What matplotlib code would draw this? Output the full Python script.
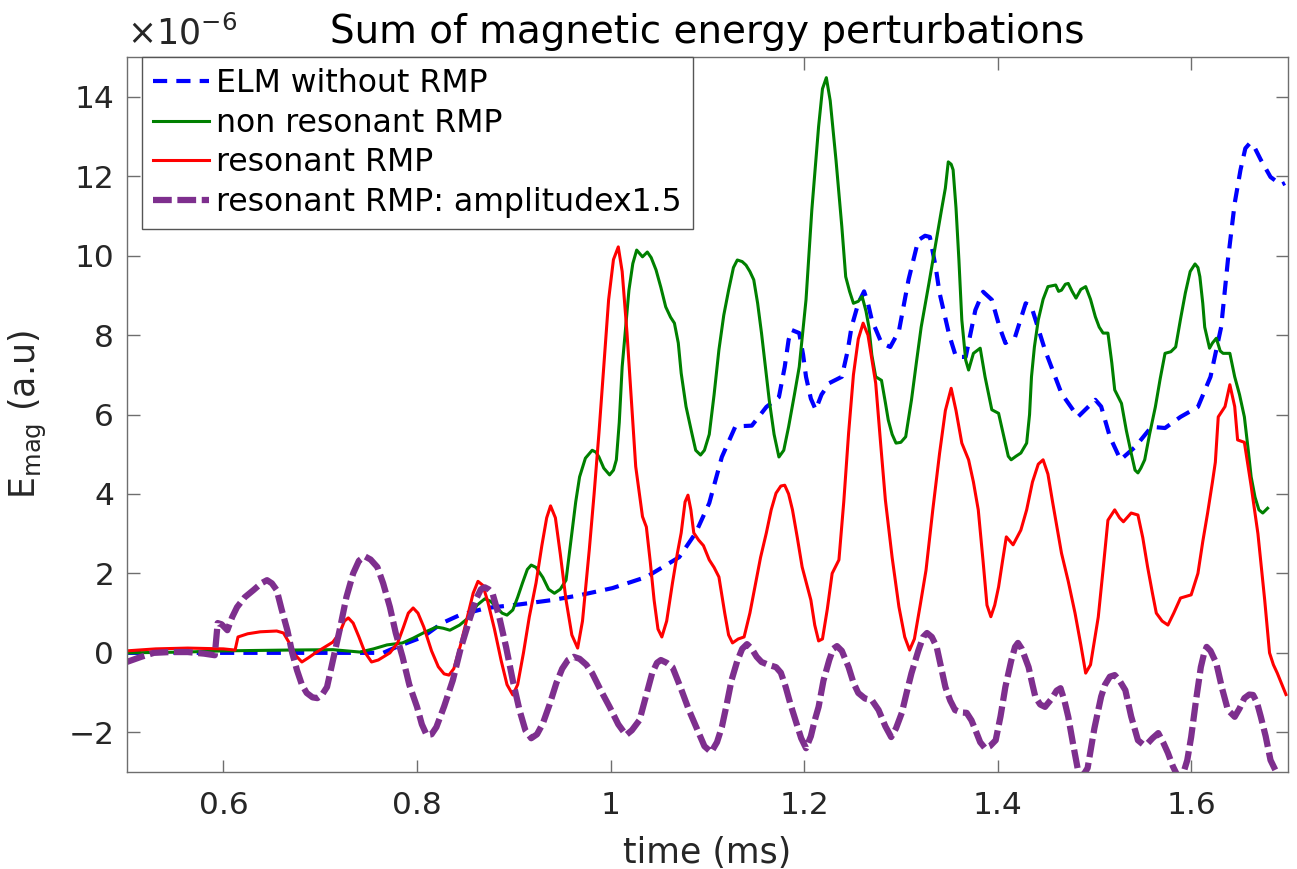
import matplotlib
matplotlib.use("Agg")
import matplotlib.pyplot as plt

plt.rcParams['font.family'] = ['DejaVu Sans']

# ELM without RMP
t_elm = [0.500, 0.600, 0.700, 0.765, 0.779, 0.806, 0.826, 0.844, 0.872, 0.906,
         0.940, 0.968, 1.002, 1.037, 1.071, 1.088, 1.102, 1.115, 1.129, 1.146,
         1.161, 1.174, 1.180, 1.184, 1.187, 1.195, 1.199, 1.202, 1.207, 1.212,
         1.218, 1.226, 1.239, 1.245, 1.249, 1.256, 1.262, 1.266, 1.270, 1.280,
         1.289, 1.298, 1.308, 1.318, 1.325, 1.330, 1.336, 1.340, 1.350, 1.357,
         1.367, 1.377, 1.385, 1.394, 1.402, 1.408, 1.418, 1.429, 1.435, 1.449,
         1.466, 1.483, 1.501, 1.507, 1.516, 1.527, 1.542, 1.559, 1.573, 1.589,
         1.607, 1.620, 1.631, 1.638, 1.645, 1.651, 1.656, 1.661, 1.666, 1.672,
         1.682, 1.693, 1.697]
e_elm = [0.00, 0.00, 0.00, 0.00, 0.15, 0.40, 0.75, 0.95, 1.13, 1.22,
         1.33, 1.45, 1.63, 1.91, 2.41, 3.02, 3.77, 4.93, 5.70, 5.72,
         6.19, 6.44, 7.20, 7.88, 8.13, 8.05, 7.50, 6.95, 6.40, 6.12,
         6.50, 6.79, 6.95, 7.60, 8.20, 8.80, 9.10, 8.80, 8.38, 7.80,
         7.70, 8.10, 9.40, 10.39, 10.50, 10.47, 9.71, 9.06, 8.00, 7.45,
         7.45, 8.63, 9.09, 8.89, 8.20, 7.80, 7.95, 8.80, 8.71, 7.62,
         6.53, 5.94, 6.37, 6.20, 5.44, 4.86, 5.18, 5.69, 5.66, 5.94,
         6.19, 6.95, 8.20, 9.89, 11.32, 12.16, 12.70, 12.84, 12.70, 12.41,
         11.98, 11.78, 11.83]

# non resonant RMP
t_nres = [0.500, 0.560, 0.600, 0.666, 0.713, 0.741, 0.755, 0.769, 0.785, 0.796,
          0.808, 0.820, 0.827, 0.834, 0.844, 0.854, 0.862, 0.870, 0.876, 0.882,
          0.888, 0.893, 0.899, 0.904, 0.909, 0.914, 0.918, 0.923, 0.930, 0.936,
          0.942, 0.948, 0.954, 0.960, 0.964, 0.968, 0.974, 0.981, 0.985, 0.988,
          0.993, 0.999, 1.003, 1.006, 1.009, 1.012, 1.016, 1.019, 1.023, 1.027,
          1.033, 1.038, 1.042, 1.047, 1.052, 1.057, 1.062, 1.066, 1.070, 1.073,
          1.078, 1.084, 1.088, 1.093, 1.097, 1.102, 1.107, 1.112, 1.117, 1.122,
          1.127, 1.131, 1.136, 1.140, 1.144, 1.148, 1.152, 1.156, 1.160, 1.164,
          1.169, 1.174, 1.179, 1.184, 1.190, 1.195, 1.202, 1.208, 1.215, 1.219,
          1.223, 1.227, 1.233, 1.239, 1.243, 1.247, 1.251, 1.256, 1.260, 1.264,
          1.267, 1.270, 1.274, 1.280, 1.284, 1.287, 1.291, 1.295, 1.300, 1.305,
          1.311, 1.316, 1.321, 1.329, 1.336, 1.342, 1.346, 1.349, 1.352, 1.354,
          1.357, 1.360, 1.363, 1.367, 1.370, 1.375, 1.382, 1.387, 1.394, 1.401,
          1.405, 1.408, 1.411, 1.414, 1.419, 1.424, 1.430, 1.433, 1.435, 1.438,
          1.442, 1.447, 1.452, 1.460, 1.463, 1.466, 1.470, 1.473, 1.477, 1.481,
          1.486, 1.491, 1.496, 1.501, 1.505, 1.509, 1.514, 1.518, 1.521, 1.528,
          1.533, 1.538, 1.542, 1.545, 1.548, 1.552, 1.557, 1.563, 1.568, 1.573,
          1.579, 1.584, 1.589, 1.594, 1.599, 1.604, 1.607, 1.609, 1.612, 1.614,
          1.619, 1.622, 1.626, 1.630, 1.633, 1.640, 1.645, 1.650, 1.655, 1.659,
          1.662, 1.666, 1.670, 1.674, 1.679]
e_nres = [0.00, 0.02, 0.05, 0.07, 0.08, 0.02, 0.10, 0.20, 0.25, 0.37,
          0.52, 0.65, 0.62, 0.57, 0.70, 0.90, 1.20, 1.36, 1.30, 1.15,
          1.00, 0.95, 1.08, 1.40, 1.76, 2.10, 2.21, 2.15, 1.90, 1.60,
          1.50, 1.60, 1.83, 3.00, 3.80, 4.43, 4.90, 5.10, 5.05, 4.93,
          4.65, 4.48, 4.60, 4.86, 5.80, 7.20, 8.30, 9.13, 9.80, 10.14,
          9.97, 10.09, 9.95, 9.64, 9.20, 8.71, 8.45, 8.30, 7.80, 7.04,
          6.20, 5.53, 5.10, 4.98, 5.10, 5.50, 6.50, 7.63, 8.50, 9.13,
          9.70, 9.89, 9.85, 9.76, 9.60, 9.39, 8.80, 8.05, 7.20, 6.36,
          5.50, 4.93, 5.10, 5.69, 6.50, 7.20, 8.89, 11.15, 13.25, 14.20,
          14.48, 13.90, 12.40, 10.73, 9.47, 9.10, 8.80, 8.85, 8.97, 8.60,
          8.20, 7.50, 6.95, 6.86, 6.30, 5.86, 5.50, 5.28, 5.30, 5.44,
          6.37, 7.30, 8.20, 9.30, 10.30, 11.15, 11.70, 12.36, 12.30, 12.16,
          11.20, 9.89, 8.38, 7.37, 7.12, 7.54, 7.67, 6.95, 6.12, 6.03,
          5.60, 5.28, 4.95, 4.86, 4.95, 5.03, 5.28, 6.00, 6.95, 7.70,
          8.38, 8.90, 9.22, 9.26, 9.10, 9.13, 9.28, 9.30, 9.10, 8.93,
          9.15, 9.22, 8.90, 8.46, 8.20, 8.05, 8.05, 7.30, 6.62, 6.28,
          5.60, 5.03, 4.60, 4.53, 4.65, 4.86, 5.50, 6.19, 6.90, 7.54,
          7.58, 7.70, 8.40, 9.06, 9.60, 9.79, 9.70, 9.47, 8.80, 8.20,
          7.67, 7.80, 7.92, 7.60, 7.54, 7.54, 6.95, 6.50, 5.94, 5.10,
          4.43, 3.92, 3.60, 3.52, 3.64]

# resonant RMP
t_res = [0.500, 0.530, 0.563, 0.600, 0.612, 0.615, 0.625, 0.638, 0.655, 0.662,
         0.668, 0.674, 0.681, 0.688, 0.695, 0.705, 0.713, 0.720, 0.725, 0.729,
         0.734, 0.740, 0.746, 0.753, 0.760, 0.772, 0.780, 0.786, 0.791, 0.796,
         0.801, 0.807, 0.815, 0.822, 0.828, 0.833, 0.838, 0.845, 0.852, 0.858,
         0.863, 0.868, 0.873, 0.880, 0.887, 0.893, 0.899, 0.904, 0.910, 0.916,
         0.923, 0.929, 0.934, 0.938, 0.943, 0.948, 0.954, 0.960, 0.966, 0.971,
         0.978, 0.983, 0.988, 0.993, 0.998, 1.003, 1.008, 1.012, 1.017, 1.022,
         1.026, 1.033, 1.037, 1.041, 1.045, 1.049, 1.053, 1.058, 1.064, 1.069,
         1.073, 1.077, 1.080, 1.083, 1.086, 1.091, 1.096, 1.102, 1.107, 1.112,
         1.118, 1.122, 1.126, 1.132, 1.138, 1.144, 1.150, 1.155, 1.161, 1.166,
         1.171, 1.176, 1.180, 1.184, 1.188, 1.193, 1.198, 1.207, 1.211, 1.215,
         1.219, 1.224, 1.229, 1.236, 1.241, 1.246, 1.251, 1.256, 1.261, 1.266,
         1.270, 1.274, 1.279, 1.284, 1.291, 1.298, 1.304, 1.309, 1.314, 1.320,
         1.326, 1.333, 1.340, 1.346, 1.352, 1.357, 1.363, 1.370, 1.375, 1.380,
         1.385, 1.389, 1.393, 1.397, 1.401, 1.405, 1.409, 1.416, 1.424, 1.430,
         1.436, 1.442, 1.447, 1.452, 1.457, 1.466, 1.473, 1.480, 1.486, 1.491,
         1.496, 1.504, 1.509, 1.514, 1.521, 1.526, 1.530, 1.538, 1.545, 1.550,
         1.555, 1.560, 1.564, 1.570, 1.576, 1.582, 1.589, 1.600, 1.607, 1.612,
         1.617, 1.622, 1.625, 1.628, 1.635, 1.640, 1.645, 1.648, 1.655, 1.662,
         1.669, 1.676, 1.681, 1.685, 1.689, 1.698]
e_res = [0.05, 0.10, 0.12, 0.10, 0.07, 0.40, 0.48, 0.53, 0.55, 0.50,
         0.25, -0.05, -0.23, -0.12, 0.00, 0.15, 0.27, 0.50, 0.80, 0.88,
         0.75, 0.40, 0.02, -0.23, -0.18, 0.00, 0.25, 0.65, 1.00, 1.13,
         1.00, 0.65, 0.05, -0.35, -0.53, -0.56, -0.40, 0.20, 0.90, 1.50,
         1.80, 1.70, 1.30, 0.60, -0.20, -0.80, -1.06, -0.80, 0.00, 0.90,
         1.76, 2.70, 3.40, 3.70, 3.40, 2.50, 1.33, 0.45, 0.12, 0.80,
         2.59, 4.00, 5.53, 7.20, 8.89, 9.90, 10.22, 9.60, 8.05, 6.20,
         4.69, 3.43, 3.17, 2.30, 1.33, 0.60, 0.40, 0.80, 1.76, 2.50,
         3.02, 3.80, 3.97, 3.60, 3.02, 2.84, 2.70, 2.34, 2.15, 1.91,
         1.00, 0.45, 0.25, 0.35, 0.40, 1.00, 1.76, 2.40, 3.02, 3.60,
         4.02, 4.20, 4.22, 4.00, 3.60, 2.90, 2.16, 1.33, 0.70, 0.30,
         0.35, 1.10, 2.00, 2.34, 3.80, 5.53, 7.00, 7.90, 8.30, 8.00,
         7.40, 6.79, 5.30, 3.85, 2.40, 1.16, 0.40, 0.07, 0.35, 1.20,
         2.08, 3.60, 5.02, 6.10, 6.66, 6.10, 5.28, 4.86, 4.30, 3.60,
         2.30, 1.20, 0.91, 1.20, 1.66, 2.30, 2.92, 2.72, 3.09, 3.60,
         4.30, 4.75, 4.86, 4.50, 3.77, 2.51, 1.80, 1.00, 0.20, -0.51,
         -0.30, 0.90, 2.10, 3.34, 3.60, 3.40, 3.30, 3.52, 3.47, 2.90,
         2.16, 1.50, 1.00, 0.80, 0.70, 1.00, 1.38, 1.46, 2.00, 2.80,
         3.52, 4.30, 4.80, 5.94, 6.20, 6.75, 6.20, 5.36, 5.30, 4.20,
         3.00, 1.33, 0.00, -0.30, -0.51, -1.05]

# resonant RMP: amplitude x1.5
t_res15 = [0.500, 0.515, 0.528, 0.545, 0.563, 0.580, 0.591, 0.594, 0.598, 0.604,
           0.609, 0.614, 0.622, 0.631, 0.639, 0.645, 0.650, 0.655, 0.660, 0.666,
           0.671, 0.676, 0.681, 0.686, 0.692, 0.697, 0.702, 0.707, 0.713, 0.720,
           0.727, 0.734, 0.740, 0.746, 0.752, 0.759, 0.765, 0.772, 0.778, 0.785,
           0.792, 0.800, 0.805, 0.810, 0.815, 0.820, 0.828, 0.837, 0.845, 0.854,
           0.861, 0.866, 0.870, 0.874, 0.878, 0.885, 0.892, 0.899, 0.906, 0.912,
           0.918, 0.924, 0.930, 0.937, 0.944, 0.950, 0.956, 0.962, 0.968, 0.975,
           0.981, 0.990, 0.999, 1.008, 1.016, 1.022, 1.030, 1.036, 1.043, 1.048,
           1.052, 1.058, 1.064, 1.072, 1.081, 1.090, 1.097, 1.104, 1.110, 1.115,
           1.120, 1.125, 1.131, 1.136, 1.141, 1.146, 1.151, 1.156, 1.163, 1.171,
           1.176, 1.181, 1.186, 1.191, 1.197, 1.202, 1.207, 1.211, 1.215, 1.220,
           1.226, 1.230, 1.234, 1.239, 1.246, 1.251, 1.256, 1.263, 1.270, 1.277,
           1.284, 1.290, 1.295, 1.301, 1.306, 1.311, 1.318, 1.323, 1.327, 1.332,
           1.337, 1.341, 1.346, 1.351, 1.356, 1.362, 1.368, 1.373, 1.377, 1.382,
           1.387, 1.392, 1.398, 1.403, 1.408, 1.414, 1.418, 1.421, 1.425, 1.432,
           1.436, 1.439, 1.444, 1.449, 1.456, 1.461, 1.465, 1.469, 1.473, 1.478,
           1.483, 1.488, 1.493, 1.500, 1.507, 1.511, 1.516, 1.521, 1.526, 1.532,
           1.538, 1.545, 1.550, 1.555, 1.560, 1.566, 1.571, 1.576, 1.581, 1.586,
           1.591, 1.596, 1.600, 1.605, 1.610, 1.613, 1.616, 1.620, 1.626, 1.632,
           1.638, 1.645, 1.650, 1.655, 1.660, 1.664, 1.668, 1.672, 1.677, 1.682,
           1.688, 1.697]
e_res15 = [-0.23, -0.10, 0.00, 0.02, 0.02, -0.02, -0.06, 0.75, 0.72, 0.57,
           0.90, 1.15, 1.40, 1.58, 1.75, 1.83, 1.75, 1.58, 1.10, 0.57,
           0.00, -0.44, -0.80, -1.01, -1.12, -1.14, -1.05, -0.86, -0.20, 0.57,
           1.40, 2.00, 2.32, 2.43, 2.35, 2.16, 1.75, 1.15, 0.50, -0.10,
           -0.80, -1.36, -1.80, -2.07, -2.05, -1.87, -1.35, -0.69, 0.10, 0.82,
           1.35, 1.60, 1.65, 1.60, 1.50, 0.90, 0.15, -0.70, -1.45, -1.95,
           -2.15, -2.05, -1.78, -1.30, -0.76, -0.40, -0.18, -0.10, -0.15, -0.30,
           -0.51, -0.95, -1.36, -1.80, -2.07, -1.95, -1.69, -1.15, -0.51, -0.25,
           -0.18, -0.25, -0.36, -0.85, -1.44, -1.95, -2.35, -2.50, -2.25, -1.87,
           -1.30, -0.69, -0.20, 0.10, 0.22, 0.10, -0.10, -0.23, -0.30, -0.36,
           -0.50, -0.86, -1.30, -1.69, -2.15, -2.40, -2.10, -1.70, -1.36, -0.70,
           -0.18, 0.10, 0.17, 0.05, -0.36, -0.75, -1.01, -1.15, -1.19, -1.44,
           -1.85, -2.12, -1.90, -1.51, -1.00, -0.51, 0.05, 0.40, 0.50, 0.40,
           0.15, -0.30, -0.86, -1.20, -1.44, -1.50, -1.51, -1.70, -1.94, -2.25,
           -2.40, -2.35, -2.20, -1.60, -0.86, -0.20, 0.15, 0.25, 0.10, -0.36,
           -0.80, -1.11, -1.30, -1.36, -1.15, -0.95, -0.89, -1.20, -1.61, -2.30,
           -2.95, -3.10, -2.90, -1.90, -1.10, -0.80, -0.60, -0.56, -0.70, -0.94,
           -1.60, -2.20, -2.30, -2.28, -2.15, -2.02, -2.25, -2.52, -2.85, -3.10,
           -3.10, -2.70, -2.12, -1.20, -0.36, -0.05, 0.15, 0.05, -0.26, -0.90,
           -1.44, -1.61, -1.40, -1.14, -1.05, -1.06, -1.25, -1.61, -2.10, -2.70,
           -3.00, -3.40]

xticks = [0.6, 0.8, 1.0, 1.2, 1.4, 1.6]
xticklabels = ['0.6', '0.8', '1', '1.2', '1.4', '1.6']
yticks = [-2, 0, 2, 4, 6, 8, 10, 12, 14]

fig = plt.figure(figsize=(12.97, 8.69), dpi=100)
ax = fig.add_axes([0.0977, 0.1116, 0.8953, 0.8228])

ax.plot(t_elm, e_elm, color='#0000ff', lw=3, dashes=(3.4, 2.2), label='ELM without RMP')
ax.plot(t_nres, e_nres, color='#008000', lw=2.2, label='non resonant RMP')
ax.plot(t_res, e_res, color='#ff0000', lw=2.2, label='resonant RMP')
ax.plot(t_res15, e_res15, color='#7e2f8e', lw=4.5, dashes=(3.0, 0.9),
        label='resonant RMP: amplitudex1.5')

ax.set_xlim(0.5, 1.7)
ax.set_ylim(-3, 15)
ax.set_xticks(xticks)
ax.set_xticklabels(xticklabels)
ax.set_yticks(yticks)

tc = '#262626'
for s in ax.spines.values():
    s.set_color('#6e6e6e')
    s.set_linewidth(1.0)
ax.tick_params(direction='in', length=9, width=1, color='#6e6e6e',
               labelcolor=tc, labelsize=22.5, top=True, right=True)
ax.tick_params(axis='x', pad=14)
ax.tick_params(axis='y', pad=9)

ax.set_title('Sum of magnetic energy perturbations', fontsize=28, color='black', pad=10)
ax.set_xlabel('time (ms)', fontsize=25, color=tc, labelpad=11)
ax.set_ylabel(r'$\mathregular{E_{mag}}$ (a.u)', fontsize=25, color=tc, labelpad=14)
ax.text(0.0, 1.008, r'$\times\mathregular{10^{-6}}$', transform=ax.transAxes,
        ha='left', va='bottom', fontsize=25, color=tc)

leg = ax.legend(loc='upper left', bbox_to_anchor=(0.0135, 1.0), borderaxespad=0,
                fontsize=22.7, handlelength=1.75, handletextpad=0.25,
                labelspacing=0.27, borderpad=0.35, fancybox=False, framealpha=1)
leg.get_frame().set_edgecolor('#555555')
leg.get_frame().set_linewidth(1.0)

fig.savefig('out.png', dpi=100)
